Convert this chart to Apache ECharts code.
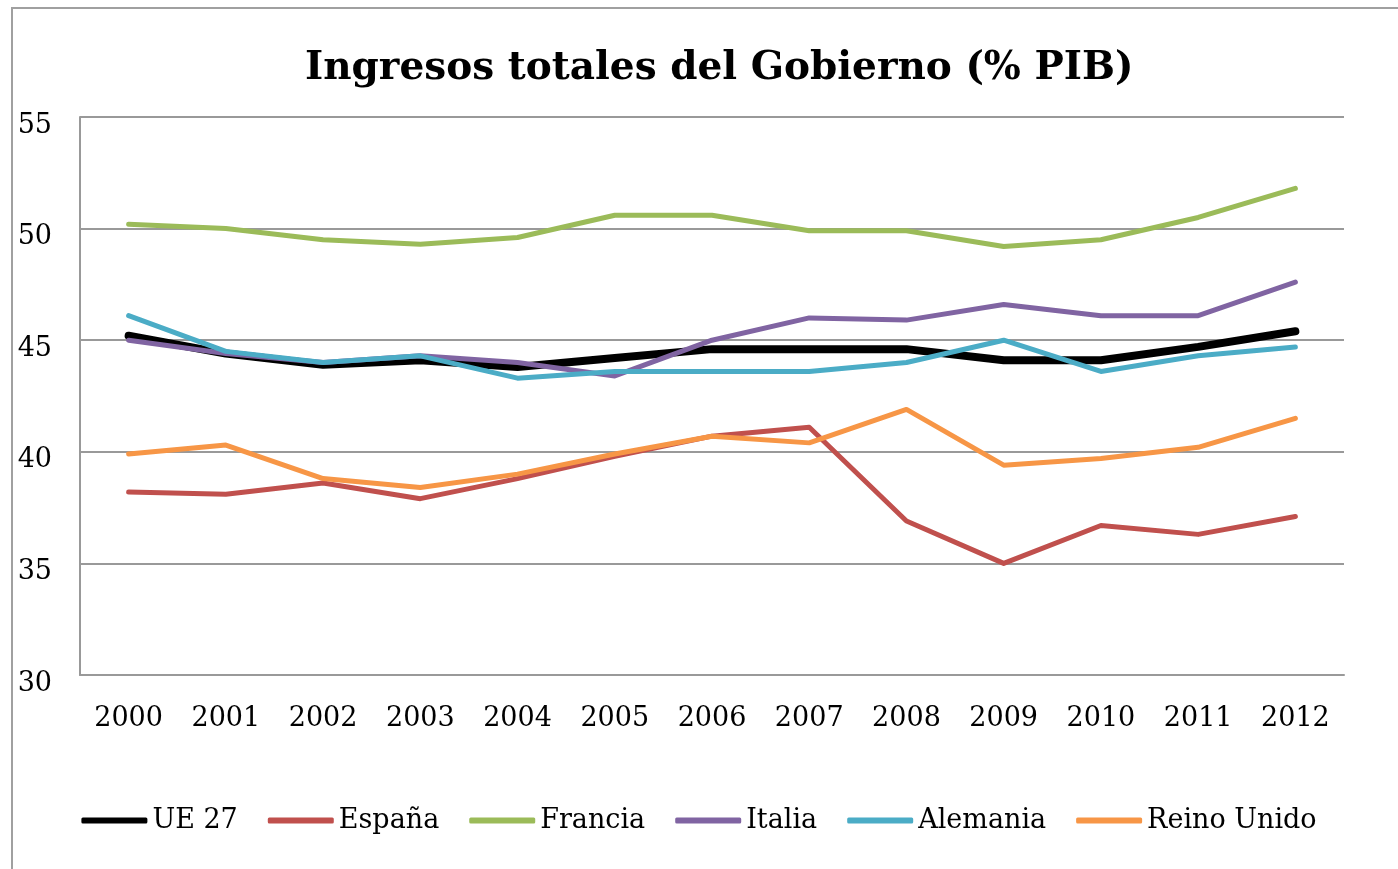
<!DOCTYPE html>
<html>
<head>
<meta charset="utf-8">
<title>Ingresos totales del Gobierno</title>
<script src="https://cdn.jsdelivr.net/npm/echarts@6/dist/echarts.min.js"></script>
<style>
  html, body { margin: 0; padding: 0; background: #fff; }
  #chart { width: 1398px; height: 869px; }
</style>
</head>
<body>
<div id="chart"></div>
<script>
const years = ['2000', '2001', '2002', '2003', '2004', '2005', '2006', '2007', '2008', '2009', '2010', '2011', '2012'];
const ue27 = [45.2, 44.4, 43.9, 44.1, 43.8, 44.2, 44.6, 44.6, 44.6, 44.1, 44.1, 44.7, 45.4];
const espana = [38.2, 38.1, 38.6, 37.9, 38.8, 39.8, 40.7, 41.1, 36.9, 35.0, 36.7, 36.3, 37.1];
const francia = [50.2, 50.0, 49.5, 49.3, 49.6, 50.6, 50.6, 49.9, 49.9, 49.2, 49.5, 50.5, 51.8];
const italia = [45.0, 44.4, 44.0, 44.3, 44.0, 43.4, 45.0, 46.0, 45.9, 46.6, 46.1, 46.1, 47.6];
const alemania = [46.1, 44.5, 44.0, 44.3, 43.3, 43.6, 43.6, 43.6, 44.0, 45.0, 43.6, 44.3, 44.7];
const reinoUnido = [39.9, 40.3, 38.8, 38.4, 39.0, 39.9, 40.7, 40.4, 41.9, 39.4, 39.7, 40.2, 41.5];

const font = '"DejaVu Serif", "Liberation Serif", serif';

function line(name, data, color, width) {
  return {
    name: name,
    type: 'line',
    data: data,
    symbol: 'none',
    lineStyle: { color: color, width: width, cap: 'round', join: 'round' },
    itemStyle: { color: color },
    emphasis: { disabled: true }
  };
}

const chart = echarts.init(document.getElementById('chart'));
chart.setOption({
  animation: false,
  backgroundColor: '#fff',
  title: {
    text: 'Ingresos totales del Gobierno (% PIB)',
    left: 300,
    top: 44,
    textStyle: { fontFamily: font, fontWeight: 'bold', fontSize: 39, color: '#000' }
  },
  graphic: [{
    type: 'rect',
    shape: { x: 12, y: 8, width: 1500, height: 1000 },
    style: { fill: 'none', stroke: '#a0a0a0', lineWidth: 2 },
    silent: true
  }],
  legend: {
    bottom: 30,
    left: 'center',
    icon: 'roundRect',
    itemWidth: 66,
    itemHeight: 6,
    itemGap: 30,
    textStyle: { fontFamily: font, fontSize: 27, color: '#000' },
    data: [
      { name: 'UE 27', itemStyle: { color: '#000' } },
      'España', 'Francia', 'Italia', 'Alemania', 'Reino Unido'
    ]
  },
  grid: { left: 80, right: 54, top: 117, bottom: 194 },
  xAxis: {
    type: 'category',
    data: years,
    axisLine: { lineStyle: { color: '#999', width: 2 } },
    axisTick: { show: false },
    axisLabel: { margin: 30, fontFamily: font, fontSize: 27, color: '#000' }
  },
  yAxis: {
    type: 'value',
    min: 30,
    max: 55,
    interval: 5,
    axisLine: { show: true, lineStyle: { color: '#999', width: 2 } },
    axisTick: { show: false },
    splitLine: { lineStyle: { color: '#999', width: 2 } },
    axisLabel: { margin: 28, fontFamily: font, fontSize: 27, color: '#000', verticalAlign: 'top', padding: [-5, 0, 0, 0] }
  },
  series: [
    line('UE 27', ue27, '#000000', 8),
    line('España', espana, '#c0504d', 5),
    line('Francia', francia, '#9bbb59', 5),
    line('Italia', italia, '#8064a2', 5),
    line('Alemania', alemania, '#4bacc6', 5),
    line('Reino Unido', reinoUnido, '#f79646', 5)
  ]
});
</script>
</body>
</html>
